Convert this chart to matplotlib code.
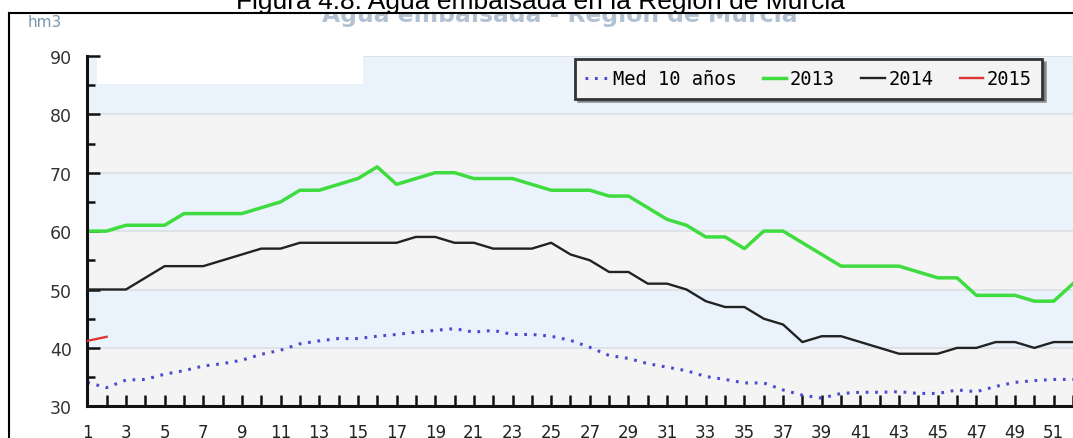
import matplotlib
matplotlib.use("Agg")
import matplotlib.pyplot as plt
from matplotlib.patches import Rectangle
from matplotlib.lines import Line2D
from matplotlib.transforms import Bbox, TransformedBbox

# semanas del año hidrológico
semanas = list(range(1, 53))

# hm3 embalsados por semana
med_10_anos = [34.1, 33.2, 34.5, 34.6, 35.5, 36.1, 36.9, 37.3, 37.9, 38.9,
               39.6, 40.7, 41.2, 41.6, 41.6, 42.0, 42.3, 42.7, 43.0, 43.3,
               42.7, 43.0, 42.3, 42.3, 42.0, 41.3, 40.1, 38.7, 38.2, 37.3,
               36.7, 36.1, 35.1, 34.6, 34.0, 34.0, 32.8, 31.9, 31.4, 32.2,
               32.4, 32.4, 32.5, 32.2, 32.2, 32.8, 32.5, 33.4, 34.1, 34.4,
               34.6, 34.6]
serie_2013 = [60, 60, 61, 61, 61, 63, 63, 63, 63, 64,
              65, 67, 67, 68, 69, 71, 68, 69, 70, 70,
              69, 69, 69, 68, 67, 67, 67, 66, 66, 64,
              62, 61, 59, 59, 57, 60, 60, 58, 56, 54,
              54, 54, 54, 53, 52, 52, 49, 49, 49, 48,
              48, 51]
serie_2014 = [50, 50, 50, 52, 54, 54, 54, 55, 56, 57,
              57, 58, 58, 58, 58, 58, 58, 59, 59, 58,
              58, 57, 57, 57, 58, 56, 55, 53, 53, 51,
              51, 50, 48, 47, 47, 45, 44, 41, 42, 42,
              41, 40, 39, 39, 39, 40, 40, 41, 41, 40,
              41, 41]
semanas_2015 = [1, 2]
serie_2015 = [41.2, 41.9]

etiquetas_x = [str(s) if s % 2 == 1 else "" for s in semanas]

W, H = 1073, 439
fig = plt.figure(figsize=(W / 100, H / 100), dpi=100)
fig.patch.set_facecolor("white")

# ejes: el origen (semana 1, 30 hm3) cae en el píxel (87, 407)
x0, y0, y90 = 87.3, 407.3, 56.9
ax = fig.add_axes([x0 / W, 1 - y0 / H, 1 - x0 / W, (y0 - y90) / H])
ax.set_xlim(1, 1 + (W - x0) / 19.5)
ax.set_ylim(30, 90)
ax.set_facecolor("white")

# bandas alternas de fondo
for lo in range(30, 90, 10):
    col = "#f4f4f4" if (lo // 10) % 2 == 1 else "#eaf3fb"
    ax.axhspan(lo, lo + 10, color=col, lw=0, zorder=0)
for v in range(40, 91, 10):
    ax.axhline(v, color="#dde1e5", lw=1.3, zorder=0.5)
ax.add_patch(Rectangle((0.01, 55.2 / 60), 0.27, 1 - 55.2 / 60,
                       transform=ax.transAxes, color="white", lw=0, zorder=0.6))

ax.plot(semanas, med_10_anos, color="#4b4bcf", lw=2.2,
        linestyle=(0, (0.9, 2.2)), label="Med 10 años", zorder=2)
ax.plot(semanas, serie_2013, color="#3fdc3f", lw=2.5, label="2013", zorder=2)
ax.plot(semanas, serie_2014, color="#222222", lw=1.7, label="2014", zorder=3)
ax.plot(semanas_2015, serie_2015, color="#e03535", lw=1.7, label="2015", zorder=3)

for s in ["top", "right"]:
    ax.spines[s].set_visible(False)
for s in ["left", "bottom"]:
    ax.spines[s].set_linewidth(2.2)
    ax.spines[s].set_color("#111111")

ax.set_xticks(semanas)
ax.set_xticklabels(etiquetas_x)
ax.set_yticks(range(30, 91, 10))
ax.set_yticks(range(35, 90, 10), minor=True)
ax.tick_params(axis="x", direction="in", length=8, width=1.8, color="#111111",
               pad=12, labelsize=12, labelcolor="#222222")
ax.tick_params(axis="y", which="major", direction="in", length=9, width=1.8,
               color="#111111", pad=11, labelsize=12.5, labelcolor="#333333")
ax.tick_params(axis="y", which="minor", direction="in", length=6, width=1.8,
               color="#111111")

leg = ax.legend(loc="upper right", bbox_to_anchor=(1042 / W, 1 - 60 / H),
                bbox_transform=fig.transFigure, borderaxespad=0, ncol=4,
                frameon=True, fancybox=False, shadow=True, framealpha=1,
                facecolor="#f3f3f3", edgecolor="#333333",
                prop={"family": "DejaVu Sans Mono", "size": 13.5},
                handlelength=1.25, handletextpad=0.2, columnspacing=1.4,
                borderpad=0.55)
leg.get_frame().set_linewidth(2)
leg.set_zorder(5)

# marco y textos de la figura
fig.text(28 / W, 1 - 27 / H, "hm3", fontsize=11, color="#7b96b0",
         ha="left", va="baseline")

# título del gráfico, tapado en su parte alta por el pie de figura
y_marco = 1 - 13.5 / H
titulo = fig.text(560 / W, 1 - 22 / H, "Agua embalsada - Región de Murcia",
                  fontsize=16.9, fontweight="bold", color="#b3c2d2",
                  ha="center", va="baseline", zorder=1)
titulo.set_clip_box(TransformedBbox(Bbox([[0, 0], [1, y_marco]]), fig.transFigure))
titulo.set_clip_on(True)

fig.add_artist(Line2D([9 / W, 1], [y_marco] * 2, transform=fig.transFigure,
                      color="black", lw=1.5, zorder=4))
fig.add_artist(Line2D([9 / W] * 2, [0, y_marco], transform=fig.transFigure,
                      color="black", lw=1.5, zorder=4))
fig.text(541 / W, 1 - 9.5 / H, "Figura 4.8. Agua embalsada en la Región de Murcia",
         fontsize=19, family="Liberation Sans", color="black",
         ha="center", va="baseline", zorder=5)

fig.savefig("out.png", dpi=100)
